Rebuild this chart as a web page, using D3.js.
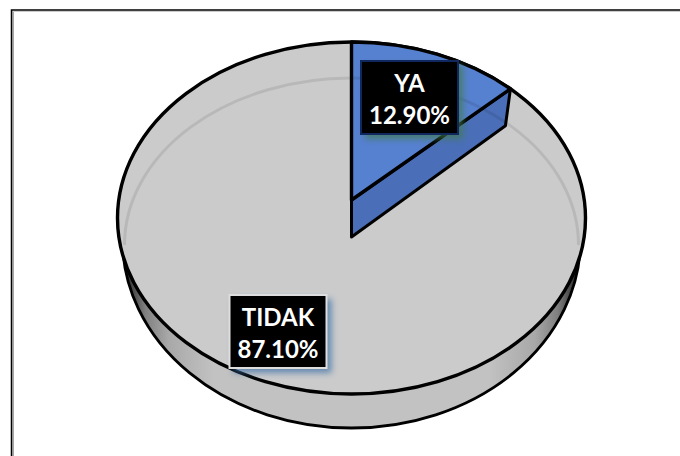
<!DOCTYPE html>
<html><head><meta charset="utf-8">
<script src="https://cdn.jsdelivr.net/npm/d3@7/dist/d3.min.js"></script>
<style>html,body{margin:0;padding:0;background:#fff}svg{display:block}</style>
</head><body><svg id="c" width="680" height="456"></svg>
<script>
const categories = ["YA", "TIDAK"];
const seriesValues = [12.9, 87.1];
const percentLabels = ["12.90%", "87.10%"];

const svg = d3.select("#c");
const defs = svg.append("defs");
const W = 680, H = 456;
const cx = 351.5, cy = 218, rx = 234, ry = 176;
const foreshorten = 0.88;

const pie = d3.pie().sort(null).value(d => d)(seriesValues);
const proj = a => Math.atan2(Math.sin(a) * foreshorten, Math.cos(a));
const px = d3.scaleLinear().domain([-1, 1]).range([cx - rx, cx + rx]);
const py = d3.scaleLinear().domain([-1, 1]).range([cy - ry, cy + ry]);
const rim = a => { const t = proj(a); return [px(Math.sin(t)), py(-Math.cos(t))]; };

// frame
svg.append("path").attr("d", `M11.5 ${H}V10H${W}`).attr("fill", "none").attr("stroke", "#000").attr("stroke-width", 1.5);
svg.append("line").attr("x1", 13).attr("x2", 13).attr("y1", 11).attr("y2", H).attr("stroke", "#888").attr("stroke-width", 1.5);
svg.append("line").attr("x1", 13).attr("x2", W).attr("y1", 11.5).attr("y2", 11.5).attr("stroke", "#ccc").attr("stroke-width", 1);

// side gradient
const wx = 229, wcy = 240, wry = 188;
const g = defs.append("linearGradient").attr("id", "side").attr("gradientUnits", "userSpaceOnUse")
  .attr("x1", cx - wx).attr("x2", cx + wx).attr("y1", 0).attr("y2", 0);
[[0, "#222"], [0.02, "#444"], [0.05, "#808080"], [0.1, "#a8a8a8"], [0.2, "#c2c2c2"], [0.8, "#c2c2c2"], [0.9, "#a8a8a8"], [0.95, "#808080"], [0.98, "#444"], [1, "#222"]]
  .forEach(([o, c]) => g.append("stop").attr("offset", o).attr("stop-color", c));

defs.append("filter").attr("id", "sh").attr("x", "-30%").attr("y", "-30%").attr("width", "160%").attr("height", "160%")
  .append("feGaussianBlur").attr("stdDeviation", 3);

// side wall
svg.append("path")
  .attr("d", `M${cx - wx} ${wcy}A${wx} ${wry} 0 0 0 ${cx + wx} ${wcy}Z`)
  .attr("fill", "url(#side)").attr("stroke", "#000").attr("stroke-width", 2.8).attr("stroke-linejoin", "round");

// top surface
svg.append("ellipse").attr("cx", cx).attr("cy", cy).attr("rx", rx).attr("ry", ry)
  .attr("fill", "#cbcbcb").attr("stroke", "#000").attr("stroke-width", 3.4);

// blue slice
const s = pie[0];
const p0 = rim(s.startAngle), p1 = rim(s.endAngle);
const apex = [cx, 200], apexLow = [cx, 237];
const p1Low = [p1[0] - 5, p1[1] + 37];
svg.append("path").attr("d", d3.line()([apex, apexLow, p1Low, p1]) + "Z")
  .attr("fill", "#4a6fb8").attr("stroke", "#000").attr("stroke-width", 3).attr("stroke-linejoin", "round");
svg.append("path").attr("d", `M${apex}L${p0}A${rx} ${ry} 0 0 1 ${p1}Z`)
  .attr("fill", "#5680d0").attr("stroke", "#000").attr("stroke-width", 3.4).attr("stroke-linejoin", "round");

// bevel ring
svg.append("path").attr("d", `M${cx - 227} 245A227 167 0 0 1 ${cx + 227} 245`)
  .attr("fill", "none").attr("stroke", "#000").attr("stroke-opacity", 0.09).attr("stroke-width", 3);

// data labels
const boxes = [
  { x: 361, y: 61, b: "#10285e", sh: "#3f7a4a", t: 92 },
  { x: 229.5, y: 295, b: "#dedede", sh: "#3b6ea5", t: 326 }
];
categories.forEach((c, i) => {
  const b = boxes[i];
  svg.append("rect").attr("x", b.x + 4).attr("y", b.y + 4).attr("width", 98).attr("height", 74)
    .attr("fill", b.sh).attr("opacity", 0.7).attr("filter", "url(#sh)");
  svg.append("rect").attr("x", b.x).attr("y", b.y).attr("width", 97).attr("height", 73)
    .attr("fill", "#000").attr("stroke", b.b).attr("stroke-width", 2);
  const tx = svg.append("text").attr("text-anchor", "middle").attr("fill", "#fff")
    .attr("font-family", "Lato, 'Open Sans', sans-serif").attr("font-weight", 700).attr("font-size", 24);
  tx.append("tspan").attr("x", b.x + 48.5).attr("y", b.t).text(c);
  tx.append("tspan").attr("x", b.x + 48.5).attr("y", b.t + 32).text(percentLabels[i]);
});
</script></body></html>
